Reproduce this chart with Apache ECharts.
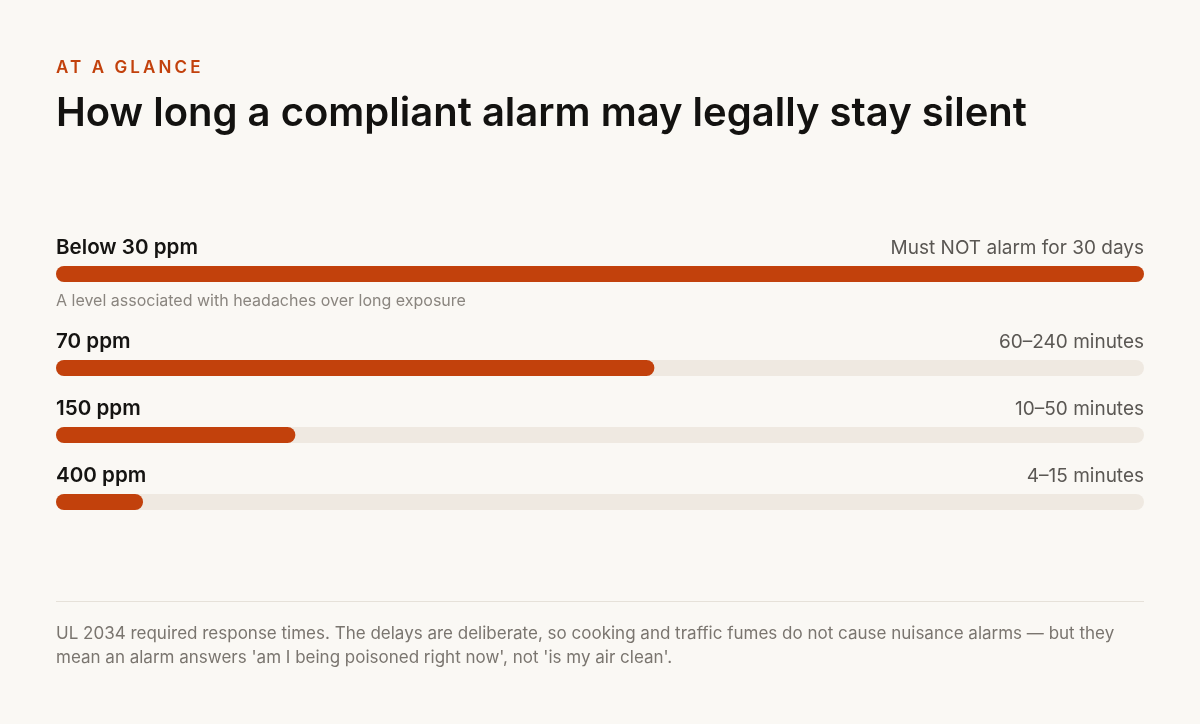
<!DOCTYPE html>
<html>
<head>
<meta charset="utf-8">
<script src="https://cdn.jsdelivr.net/npm/echarts@6/dist/echarts.min.js"></script>
<style>
html,body{margin:0;padding:0;background:#faf8f4;}
#c{width:1200px;height:724px;}
</style>
</head>
<body>
<div id="c"></div>
<script>
// ---- data ----
const levels = ['Below 30 ppm', '70 ppm', '150 ppm', '400 ppm'];
const limits = ['Must NOT alarm for 30 days', '60\u2013240 minutes', '10\u201350 minutes', '4\u201315 minutes'];
const fillPct = [100, 55, 22, 8];
const notes = ['A level associated with headaches over long exposure', '', '', ''];
const eyebrow = 'AT A GLANCE';
const heading = 'How long a compliant alarm may legally stay silent';
const footnote = ['UL 2034 required response times. The delays are deliberate, so cooking and traffic fumes do not cause nuisance alarms \u2014 but they',
  "mean an alarm answers 'am I being poisoned right now', not 'is my air clean'."];

// ---- letter-spacing support for the eyebrow text (canvas letterSpacing) ----
(function () {
  const proto = CanvasRenderingContext2D.prototype;
  const orig = proto.fillText;
  proto.fillText = function (t, x, y, m) {
    const spaced = this.font && this.font.indexOf('17.01px') >= 0 && 'letterSpacing' in this;
    if (spaced) {
      this.save();
      this.letterSpacing = '3.1px';
      const f = this.font; this.font = f;
      orig.call(this, t, x, y);
      this.restore();
      this.letterSpacing = '0px';
      const f2 = this.font; this.font = f2;
      return;
    }
    if ('letterSpacing' in this && this.letterSpacing !== '0px') {
      this.letterSpacing = '0px';
      const f3 = this.font; this.font = f3;
    }
    return m === undefined ? orig.call(this, t, x, y) : orig.call(this, t, x, y, m);
  };
})();

// ---- layout ----
const L = 56, R = 56, W = 1200 - L - R;
const barTops = [266, 360, 427, 494];
const barH = 16;
const ACC = '#c2410c';
const FONT = 'Inter, "Noto Sans", sans-serif';

const grids = [], xAxes = [], yAxes = [], series = [], graphics = [];
levels.forEach((lv, i) => {
  grids.push({left: L, right: R, top: barTops[i], height: barH, containLabel: false});
  xAxes.push({gridIndex: i, type: 'value', min: 0, max: 100, show: false});
  yAxes.push({gridIndex: i, type: 'category', data: [lv], show: false});
  series.push({
    type: 'bar', xAxisIndex: i, yAxisIndex: i, data: [fillPct[i]],
    barWidth: barH, silent: true,
    showBackground: true,
    backgroundStyle: {color: '#efe9e1', borderRadius: barH / 2},
    itemStyle: {color: ACC, borderRadius: barH / 2},
    animation: false
  });
  graphics.push({type: 'text', x: L, y: barTops[i] - 18,
    style: {text: lv, font: '600 20.6px ' + FONT, fill: '#151412', verticalAlign: 'middle'}});
  graphics.push({type: 'text', x: 1200 - R, y: barTops[i] - 18,
    style: {text: limits[i], font: '400 19px ' + FONT, fill: '#5a5753', align: 'right', verticalAlign: 'middle'}});
  if (notes[i]) {
    graphics.push({type: 'text', x: L, y: barTops[i] + barH + 19,
      style: {text: notes[i], font: '400 16px ' + FONT, fill: '#8a857f', verticalAlign: 'middle'}});
  }
});

graphics.push({type: 'text', x: L, y: 114,
  style: {text: heading, font: '600 40px ' + FONT, fill: '#131210', verticalAlign: 'middle'}});
graphics.push({type: 'rect', shape: {x: L, y: 601, width: W, height: 1},
  style: {fill: '#e6e1d9'}});
graphics.push({type: 'text', x: L, y: 634,
  style: {text: footnote[0], font: '400 17px ' + FONT, fill: '#7a756f', verticalAlign: 'middle'}});
graphics.push({type: 'text', x: L, y: 658,
  style: {text: footnote[1], font: '400 17px ' + FONT, fill: '#7a756f', verticalAlign: 'middle'}});
// eyebrow drawn last
graphics.push({type: 'text', x: L, y: 68, z: 10,
  style: {text: eyebrow, font: '600 17.01px ' + FONT, fill: ACC, verticalAlign: 'middle'}});

const chart = echarts.init(document.getElementById('c'), null, {renderer: 'canvas'});
chart.setOption({
  backgroundColor: '#faf8f4',
  animation: false,
  grid: grids, xAxis: xAxes, yAxis: yAxes, series: series,
  graphic: graphics
});
</script>
</body>
</html>
